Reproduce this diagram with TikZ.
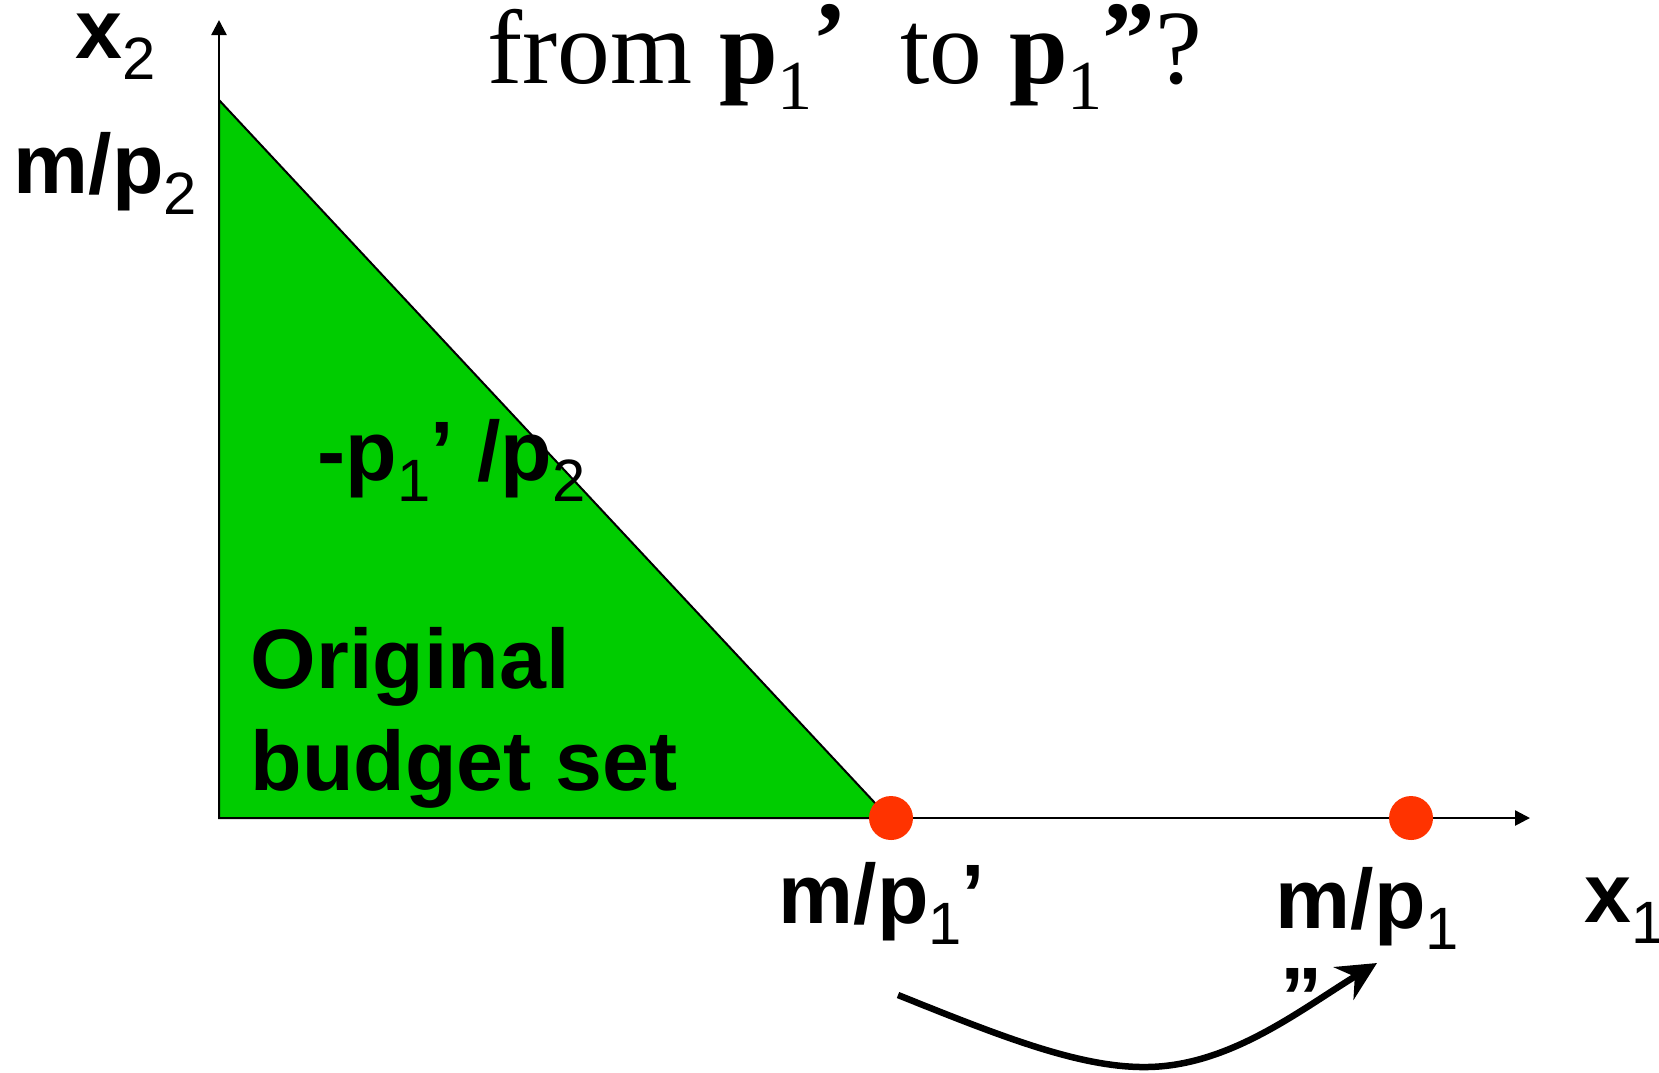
\documentclass[tikz,border=0pt]{standalone}
\usepackage{fontspec}
\setmainfont{Liberation Serif}
\newfontfamily\lblfont{Liberation Sans}
\usetikzlibrary{arrows.meta}
\definecolor{setgreen}{RGB}{0,204,0}
\definecolor{dotred}{RGB}{255,51,0}
% lowered digits for the labels and the title
\newcommand{\lsub}[1]{\raisebox{-0.26em}{\fontsize{17}{17}\selectfont\mdseries #1}}
\newcommand{\tsub}[1]{\raisebox{-0.25em}{\fontsize{20}{20}\selectfont\mdseries #1}}
\begin{document}
\begin{tikzpicture}[x=0.1mm,y=-0.1mm,
  lbl/.style={anchor=base west,inner sep=0pt,font=\lblfont\bfseries\fontsize{24}{29}\selectfont},
  dot/.style={circle,fill=dotred,minimum size=4.4mm,inner sep=0pt}]
  \useasboundingbox (0,0) rectangle (1659,1072);
  % corners of the budget set
  \coordinate (O) at (219,818);
  \coordinate (A) at (219,100);
  \coordinate (B) at (889,818);
  \coordinate (ytop) at (219,20);
  \coordinate (xend) at (1530,818);
  % original budget set
  \fill[setgreen] (O) -- (A) -- (B) -- cycle;
  \draw[line width=0.2mm] (A) -- (B) -- (O) -- cycle;
  % axes
  \draw[line width=0.25mm,-{Triangle[length=1.5mm,width=1.5mm]}] (O) -- (ytop);
  \draw[line width=0.25mm,-{Triangle[length=1.5mm,width=1.5mm]}] (O) -- (xend);
  % intercepts on the x1 axis
  \node[dot] (old) at (891,818) {};
  \node[dot] (new) at (1411,818) {};
  % title
  \node[anchor=base west,inner sep=0pt,font=\fontsize{30}{35}\selectfont] (title) at (487,83)
    {from \textbf{p}\tsub{1}\raisebox{0.08em}{\textbf{’}}\ \ to \textbf{p}\tsub{1}\raisebox{0.08em}{\textbf{”}}?};
  % labels
  \node[lbl] (xtwo) at (75,58) {x\lsub{2}};
  \node[lbl] (mptwo) at (13,193) {m/p\lsub{2}};
  \node[lbl] (slope) at (317,480) {-p\lsub{1}’ /p\lsub{2}};
  \node[lbl] (orig) at (250,688) {Original};
  \node[lbl] (budget) at (250,790) {budget set};
  \node[lbl] (mpold) at (778,923) {m/p\lsub{1}’};
  \node[lbl] (mpnew) at (1275,928) {m/p\lsub{1}};
  \node[lbl] (dq) at (1280,1026) {”};
  \node[lbl] (xone) at (1584,922) {x\lsub{1}};
  % shift of the intercept
  \coordinate (arrS) at (898,995);
  \coordinate (arrE) at (1377,963);
  \draw[line width=0.65mm,-{Stealth[length=3.9mm,width=3.8mm,inset=1.3mm]}]
    (arrS) .. controls (1000,1036) and (1080,1068) .. (1147,1067)
    .. controls (1230,1066) and (1300,1010) .. (arrE);
\end{tikzpicture}
\end{document}
